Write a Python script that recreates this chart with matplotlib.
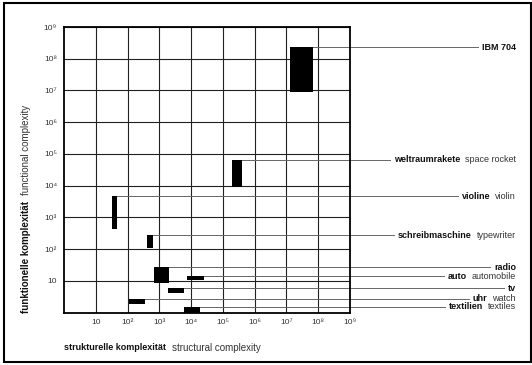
import matplotlib
matplotlib.use("Agg")
import matplotlib.pyplot as plt
from matplotlib.patches import Rectangle
from matplotlib.ticker import NullLocator
from matplotlib.transforms import blended_transform_factory

plt.rcParams['font.family'] = ['Liberation Sans', 'DejaVu Sans']

# objects: german (bold) / english names
names_de = ["IBM 704", "weltraumrakete", "violine", "schreibmaschine", "radio",
            "auto", "tv", "uhr", "textilien"]
names_en = ["", "space rocket", "violin", "typewriter", "",
            "automobile", "", "watch", "textiles"]

# structural complexity range (x) and functional complexity range (y)
x_lo = [1.3e7, 2.0e5, 32, 410, 680, 7400, 1860, 112, 6000]
x_hi = [7.0e7, 4.0e5, 47, 630, 2000, 25700, 6000, 355, 19000]
y_lo = [9.0e6, 9.0e3, 430, 107, 8.5, 10.5, 4.1, 1.9, 1.0]
y_hi = [2.3e8, 6.5e4, 4700, 275, 27, 14, 5.9, 2.7, 1.5]

tick_vals = [1e1, 1e2, 1e3, 1e4, 1e5, 1e6, 1e7, 1e8, 1e9]
tick_labels = ["10", "10²", "10³", "10⁴", "10⁵", "10⁶", "10⁷", "10⁸", "10⁹"]

W, H = 532, 365
FS = 6.5
fig = plt.figure(figsize=(W / 100, H / 100), dpi=100)
ax = fig.add_axes([64 / W, 1 - 312.5 / H, 286 / W, 285.5 / H])

ax.set_xscale("log")
ax.set_yscale("log")
ax.set_xlim(1, 1e9)
ax.set_ylim(1, 1e9)
ax.set_xticks(tick_vals)
ax.set_xticklabels(tick_labels)
ax.set_yticks(tick_vals)
ax.set_yticklabels(tick_labels)
ax.xaxis.set_minor_locator(NullLocator())
ax.yaxis.set_minor_locator(NullLocator())
ax.tick_params(length=0, labelsize=6, pad=5, colors="#333")
ax.grid(True, color="#222", lw=0.8)
ax.set_axisbelow(True)
for sp in ax.spines.values():
    sp.set_linewidth(1.3)

widths = [h - l for l, h in zip(x_lo, x_hi)]
heights = [h - l for l, h in zip(y_lo, y_hi)]
ax.bar(x_lo, heights, width=widths, bottom=y_lo, align="edge", color="black", zorder=3)

# labels on the right with leader lines
fig.canvas.draw()
r = fig.canvas.get_renderer()
trans = blended_transform_factory(fig.transFigure, ax.transData)
for i in range(len(names_de)):
    y = y_hi[i]
    x_right = 516
    if names_en[i]:
        t_en = ax.text(x_right / W, y, names_en[i], transform=trans, ha="right",
                       va="center", fontsize=FS, color="#333")
        x_right = t_en.get_window_extent(r).x0 - 5
    t_de = ax.text(x_right / W, y, names_de[i], transform=trans, ha="right",
                   va="center", fontsize=FS, fontweight="bold", color="#111")
    end_px = t_de.get_window_extent(r).x0 - 4
    x_end = ax.transData.inverted().transform((end_px, 0))[0]
    ax.plot([x_hi[i], x_end], [y, y], color="#666", lw=0.7, clip_on=False, zorder=2)

# axis titles
t1 = fig.text(64 / W, 1 - 348 / H, "strukturelle komplexität", fontsize=FS,
              fontweight="bold", ha="left", va="center", color="#111")
x1 = t1.get_window_extent(r).x1
fig.text((x1 + 6) / W, 1 - 348 / H, "structural complexity", fontsize=FS + 0.5,
         ha="left", va="center", color="#333")

t2 = fig.text(26 / W, 1 - 313 / H, "funktionelle komplexität", fontsize=FS + 0.5,
              fontweight="bold", rotation=90, ha="center", va="bottom", color="#111")
y1 = t2.get_window_extent(r).y1
fig.text(26 / W, (y1 + 6) / H, "functional complexity", fontsize=FS + 0.5,
         rotation=90, ha="center", va="bottom", color="#333")

# outer frame
fig.add_artist(Rectangle((4 / W, 3 / H), 527 / W, 359 / H, transform=fig.transFigure,
                         fill=False, lw=1.5, ec="black"))

fig.savefig("out.png", dpi=100)
